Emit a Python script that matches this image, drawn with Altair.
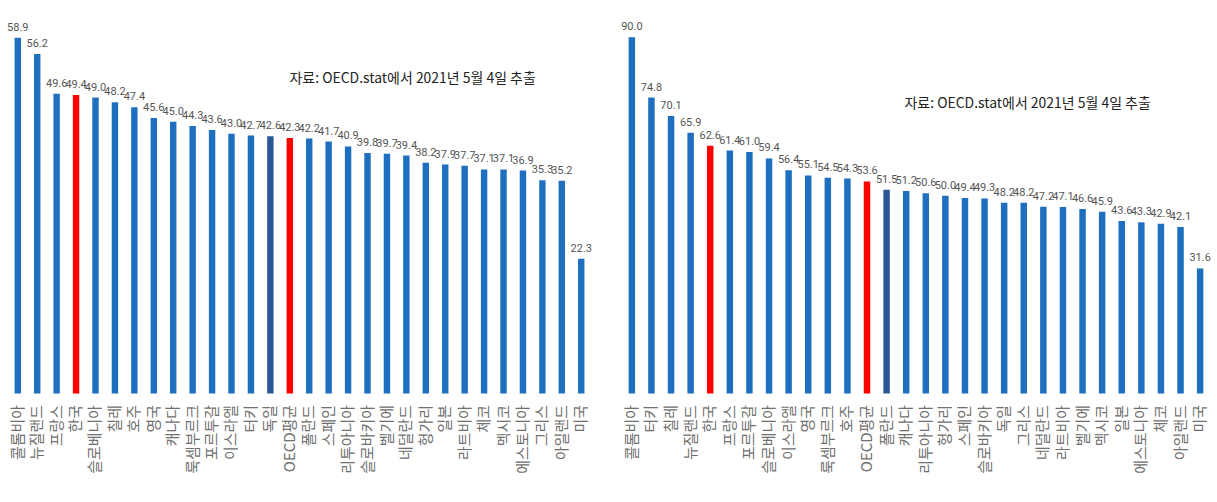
import altair as alt
import pandas as pd

left_countries = ["콜롬비아", "뉴질랜드", "프랑스", "한국", "슬로베니아", "칠레", "호주", "영국", "캐나다",
                  "룩셈부르크", "포르투갈", "이스라엘", "터키", "독일", "OECD평균", "폴란드", "스페인",
                  "리투아니아", "슬로바키아", "벨기에", "네덜란드", "헝가리", "일본", "라트비아", "체코",
                  "멕시코", "에스토니아", "그리스", "아일랜드", "미국"]
left_values = [58.9, 56.2, 49.6, 49.4, 49.0, 48.2, 47.4, 45.6, 45.0, 44.3, 43.6, 43.0, 42.7, 42.6, 42.3,
               42.2, 41.7, 40.9, 39.8, 39.7, 39.4, 38.2, 37.9, 37.7, 37.1, 37.1, 36.9, 35.3, 35.2, 22.3]

right_countries = ["콜롬비아", "터키", "칠레", "뉴질랜드", "한국", "프랑스", "포르투갈", "슬로베니아",
                   "이스라엘", "영국", "룩셈부르크", "호주", "OECD평균", "폴란드", "캐나다", "리투아니아",
                   "헝가리", "스페인", "슬로바키아", "독일", "그리스", "네덜란드", "라트비아", "벨기에",
                   "멕시코", "일본", "에스토니아", "체코", "아일랜드", "미국"]
right_values = [90.0, 74.8, 70.1, 65.9, 62.6, 61.4, 61.0, 59.4, 56.4, 55.1, 54.5, 54.3, 53.6, 51.5, 51.2,
                50.6, 50.0, 49.4, 49.3, 48.2, 48.2, 47.2, 47.1, 46.6, 45.9, 43.6, 43.3, 42.9, 42.1, 31.6]

left_highlight = {"한국": "red", "OECD평균": "red", "독일": "dark"}
right_highlight = {"한국": "red", "OECD평균": "red", "폴란드": "dark"}

note = "자료: OECD.stat에서 2021년 5월 4일 추출"

BLUE = "#1F6FC0"
RED = "#FF0000"
DARK = "#2B5797"
LABEL_FONT = "Liberation Sans Narrow, Roboto, sans-serif"
KFONT = "Noto Sans CJK KR"


def panel(countries, values, highlight, ymax, width, note_x, note_y):
    df = pd.DataFrame({
        "country": countries,
        "value": values,
        "kind": [highlight.get(c, "base") for c in countries],
        "label": [f"{v:.1f}" for v in values],
    })
    x = alt.X("country:N", sort=countries,
              scale=alt.Scale(paddingInner=0.67, paddingOuter=0.34),
              axis=alt.Axis(title=None, labelAngle=-90, labelFont=KFONT, labelFontSize=15,
                            labelColor="#707070", domain=False, ticks=False, labelPadding=11,
                            labelOverlap=False, labelLimit=200))
    y = alt.Y("value:Q", scale=alt.Scale(domain=[0, ymax], nice=False, zero=True), axis=None)
    base = alt.Chart(df)
    bars = base.mark_bar().encode(
        x=x, y=y,
        color=alt.Color("kind:N", scale=alt.Scale(domain=["base", "red", "dark"], range=[BLUE, RED, DARK]),
                        legend=None),
    )
    labels = base.mark_text(baseline="bottom", dy=-5, font=LABEL_FONT, fontSize=11, color="#555555").encode(
        x=x, y=y, text="label:N")
    txt = alt.Chart(pd.DataFrame({"t": [note]})).mark_text(
        font=KFONT, fontSize=14, color="#222222", align="center", baseline="middle"
    ).encode(text="t:N", x=alt.value(note_x), y=alt.value(note_y))
    return alt.layer(bars, labels, txt).properties(width=width, height=370)


left = panel(left_countries, left_values, left_highlight, 61.05, 585, 406, 54)
right = panel(right_countries, right_values, right_highlight, 93.2, 590, 407, 80)

chart = alt.hconcat(left, right, spacing=29).properties(
    padding={"left": 7, "top": 20, "right": 6, "bottom": 0},
    background="white",
).configure_view(stroke=None)

chart.save("out.html", embed_options={"renderer": "svg", "actions": False})
